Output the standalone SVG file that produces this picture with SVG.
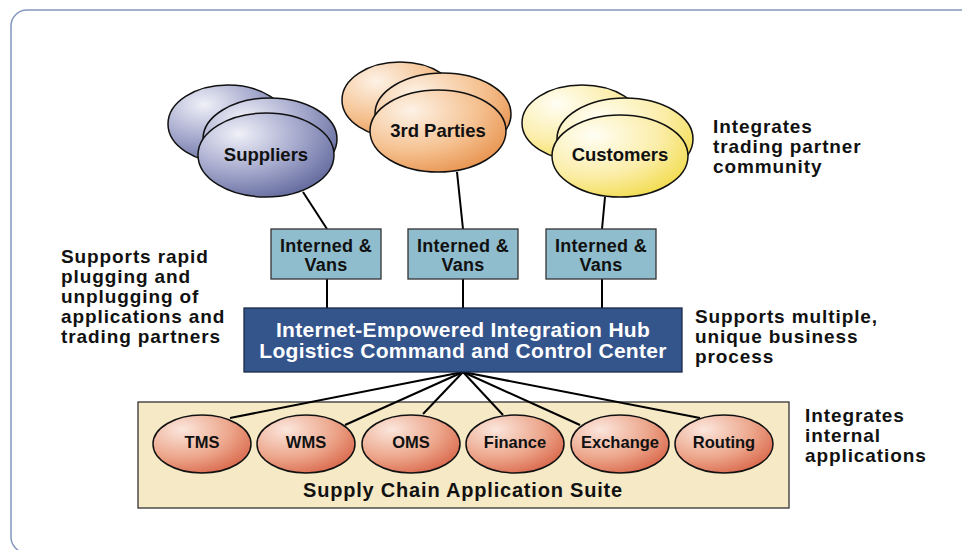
<svg xmlns="http://www.w3.org/2000/svg" width="962" height="550" viewBox="0 0 962 550">
<style>
text{font-family:"Liberation Sans",Arial,Helvetica,sans-serif;font-weight:bold;fill:#111;}
.ell{stroke:#111;stroke-width:1.5;}
.lbl{font-size:18.5px;text-anchor:middle;}
.app{font-size:16.5px;text-anchor:middle;}
.box{fill:#8fbdcd;stroke:#333;stroke-width:1.3;}
.boxt{font-size:18px;text-anchor:middle;letter-spacing:0.3px;}
.side{font-size:19px;letter-spacing:0.9px;}
.conn line{stroke:#000;stroke-width:2;}
</style>
<defs>
<radialGradient id="gSup" cx="0.3" cy="0.25" r="0.9">
<stop offset="0" stop-color="#f0f0f8"/><stop offset="0.5" stop-color="#a4a8cc"/><stop offset="1" stop-color="#565e94"/>
</radialGradient>
<radialGradient id="gPar" cx="0.3" cy="0.25" r="0.9">
<stop offset="0" stop-color="#fdf2e6"/><stop offset="0.55" stop-color="#f5c190"/><stop offset="1" stop-color="#e58a42"/>
</radialGradient>
<radialGradient id="gCus" cx="0.3" cy="0.25" r="0.9">
<stop offset="0" stop-color="#fffef4"/><stop offset="0.55" stop-color="#fbeda8"/><stop offset="1" stop-color="#f0d93c"/>
</radialGradient>
<radialGradient id="gApp" cx="0.3" cy="0.25" r="0.9">
<stop offset="0" stop-color="#fbe6dc"/><stop offset="0.55" stop-color="#eca58a"/><stop offset="1" stop-color="#d65c40"/>
</radialGradient>
</defs>
<rect x="11" y="10" width="965" height="543" rx="16" fill="#fff" stroke="#8496bd" stroke-width="1.5"/>

<g id="suite">
<rect x="138" y="402" width="651" height="106" fill="#f6e9c5" stroke="#333" stroke-width="1.3"/>
<text x="463" y="497" text-anchor="middle" style="font-size:20px;letter-spacing:0.8px">Supply Chain Application Suite</text>
</g>

<g id="connectors" class="conn">
<line x1="303" y1="192" x2="327" y2="229"/>
<line x1="457" y1="172" x2="463" y2="229"/>
<line x1="605" y1="197" x2="602" y2="229"/>
<line x1="327" y1="279" x2="327" y2="308"/>
<line x1="463" y1="279" x2="463" y2="308"/>
<line x1="602" y1="279" x2="602" y2="308"/>
<line x1="463" y1="372" x2="230" y2="418"/>
<line x1="463" y1="372" x2="345" y2="425"/>
<line x1="463" y1="372" x2="423" y2="414"/>
<line x1="463" y1="372" x2="503" y2="415"/>
<line x1="463" y1="372" x2="580" y2="425"/>
<line x1="463" y1="372" x2="700" y2="418"/>
</g>

<g id="suppliers">
<ellipse class="ell" cx="228" cy="124" rx="60" ry="39" fill="url(#gSup)"/>
<ellipse class="ell" cx="270" cy="139" rx="67" ry="41" fill="url(#gSup)"/>
<ellipse class="ell" cx="266" cy="155" rx="68" ry="42" fill="url(#gSup)"/>
<text class="lbl" x="266" y="161">Suppliers</text>
</g>
<g id="third-parties">
<ellipse class="ell" cx="400" cy="100" rx="58" ry="38" fill="url(#gPar)"/>
<ellipse class="ell" cx="443" cy="114" rx="68" ry="41" fill="url(#gPar)"/>
<ellipse class="ell" cx="438" cy="131" rx="68" ry="41" fill="url(#gPar)"/>
<text class="lbl" x="438" y="137">3rd Parties</text>
</g>
<g id="customers">
<ellipse class="ell" cx="582" cy="123" rx="60" ry="38" fill="url(#gCus)"/>
<ellipse class="ell" cx="625" cy="139" rx="68" ry="41" fill="url(#gCus)"/>
<ellipse class="ell" cx="620" cy="156" rx="68" ry="41" fill="url(#gCus)"/>
<text class="lbl" x="620" y="161">Customers</text>
</g>

<g id="vans1"><rect class="box" x="271" y="229" width="110" height="50"/><text class="boxt" x="326" y="252">Interned &amp;</text><text class="boxt" x="326" y="271">Vans</text></g>
<g id="vans2"><rect class="box" x="408" y="229" width="110" height="50"/><text class="boxt" x="463" y="252">Interned &amp;</text><text class="boxt" x="463" y="271">Vans</text></g>
<g id="vans3"><rect class="box" x="546" y="229" width="110" height="50"/><text class="boxt" x="601" y="252">Interned &amp;</text><text class="boxt" x="601" y="271">Vans</text></g>

<g id="hub">
<rect x="244" y="308" width="438" height="64" fill="#34548c" stroke="#1a2a4a" stroke-width="1.3"/>
<text x="463" y="337" text-anchor="middle" style="fill:#fff;font-size:21px;letter-spacing:0.3px">Internet-Empowered Integration Hub</text>
<text x="463" y="358" text-anchor="middle" style="fill:#fff;font-size:21px;letter-spacing:0.3px">Logistics Command and Control Center</text>
</g>

<g id="tms"><ellipse class="ell" cx="202" cy="444" rx="49" ry="29" fill="url(#gApp)"/><text class="app" x="202" y="448">TMS</text></g>
<g id="wms"><ellipse class="ell" cx="306" cy="444" rx="49" ry="29" fill="url(#gApp)"/><text class="app" x="306" y="448">WMS</text></g>
<g id="oms"><ellipse class="ell" cx="411" cy="444" rx="49" ry="29" fill="url(#gApp)"/><text class="app" x="411" y="448">OMS</text></g>
<g id="finance"><ellipse class="ell" cx="515" cy="444" rx="49" ry="29" fill="url(#gApp)"/><text class="app" x="515" y="448">Finance</text></g>
<g id="exchange"><ellipse class="ell" cx="620" cy="444" rx="49" ry="29" fill="url(#gApp)"/><text class="app" x="620" y="448">Exchange</text></g>
<g id="routing"><ellipse class="ell" cx="724" cy="444" rx="49" ry="29" fill="url(#gApp)"/><text class="app" x="724" y="448">Routing</text></g>

<g id="note-left">
<text class="side" x="61" y="263">Supports rapid</text>
<text class="side" x="61" y="283">plugging and</text>
<text class="side" x="61" y="303">unplugging of</text>
<text class="side" x="61" y="323">applications and</text>
<text class="side" x="61" y="343">trading partners</text>
</g>
<g id="note-top">
<text class="side" x="713" y="133">Integrates</text>
<text class="side" x="713" y="153">trading partner</text>
<text class="side" x="713" y="173">community</text>
</g>
<g id="note-mid">
<text class="side" x="695" y="323">Supports multiple,</text>
<text class="side" x="695" y="343">unique business</text>
<text class="side" x="695" y="363">process</text>
</g>
<g id="note-bottom">
<text class="side" x="805" y="422">Integrates</text>
<text class="side" x="805" y="442">internal</text>
<text class="side" x="805" y="462">applications</text>
</g>
</svg>
